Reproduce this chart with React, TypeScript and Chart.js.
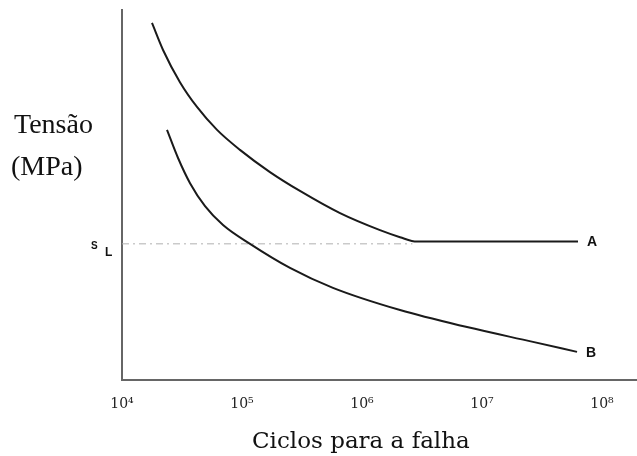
import React, { useEffect, useRef } from "react";
import { Chart, registerables } from "chart.js";

Chart.register(...registerables);

// log10(cycles to failure) and stress (arbitrary units, 0-100)
const curveALogN = [4.25, 4.342, 4.483, 4.625, 4.792, 4.983, 5.233, 5.483, 5.817, 6.15, 6.317, 6.458, 7.8];
const curveAStress = [96.5, 89.2, 80.5, 73.8, 67.6, 62.2, 56.2, 51.1, 45.1, 40.5, 38.6, 37.4, 37.4];
const curveBLogN = [4.375, 4.467, 4.567, 4.692, 4.842, 5.067, 5.4, 5.758, 6.317, 6.875, 7.425, 7.792];
const curveBStress = [67.6, 60.0, 53.2, 47.0, 41.9, 36.8, 30.3, 24.9, 18.9, 14.3, 10.3, 7.6];
const enduranceLimit = 36.8;
const enduranceLogN = [4, 6.42];
const tickDecades = [4, 5, 6, 7, 8];
const tickLabels = ["10⁴", "10⁵", "10⁶", "10⁷", "10⁸"];
const curveNames = ["A", "B"];
const yTitleLines = ["Tensão", "(MPa)"];
const xTitle = "Ciclos para a falha";

const textPlugin = {
  id: "textPlugin",
  afterDraw(chart: any) {
    const ctx = chart.ctx;
    const xs = chart.scales.x;
    const ys = chart.scales.y;
    ctx.save();
    ctx.fillStyle = "#111";
    // curve labels
    ctx.font = 'bold 14px "Liberation Sans"';
    ctx.textBaseline = "middle";
    ctx.textAlign = "left";
    const ends = [
      [curveALogN[curveALogN.length - 1], curveAStress[curveAStress.length - 1]],
      [curveBLogN[curveBLogN.length - 1], curveBStress[curveBStress.length - 1]],
    ];
    ends.forEach((e, i) => {
      ctx.fillText(curveNames[i], xs.getPixelForValue(e[0]) + 9, ys.getPixelForValue(e[1]) + 1);
    });
    // S_L
    const slY = ys.getPixelForValue(enduranceLimit);
    ctx.textBaseline = "alphabetic";
    ctx.font = 'bold 10px "Liberation Sans"';
    ctx.fillText("S", 91, slY + 5);
    ctx.font = 'bold 12px "Liberation Sans"';
    ctx.fillText("L", 105, slY + 12);
    // y title
    ctx.font = '28px "Liberation Serif"';
    ctx.textBaseline = "middle";
    ctx.fillText(yTitleLines[0], 14, 126);
    ctx.fillText(yTitleLines[1], 11, 168);
    // x title
    ctx.font = '23px "DejaVu Serif"';
    ctx.textBaseline = "alphabetic";
    ctx.fillText(xTitle, 252, 448);
    ctx.restore();
  },
};

export default function App() {
  const ref = useRef<HTMLCanvasElement | null>(null);
  useEffect(() => {
    if (!ref.current) return;
    const chart = new Chart(ref.current, {
      type: "line",
      data: {
        datasets: [
          {
            label: "A",
            data: curveALogN.map((x, i) => ({ x, y: curveAStress[i] })),
            borderColor: "#1a1a1a",
            borderWidth: 2,
            pointRadius: 0,
            cubicInterpolationMode: "monotone",
            fill: false,
          },
          {
            label: "B",
            data: curveBLogN.map((x, i) => ({ x, y: curveBStress[i] })),
            borderColor: "#1a1a1a",
            borderWidth: 2,
            pointRadius: 0,
            cubicInterpolationMode: "monotone",
            fill: false,
          },
          {
            label: "SL",
            data: enduranceLogN.map((x) => ({ x, y: enduranceLimit })),
            borderColor: "#b0b0b0",
            borderWidth: 1,
            borderDash: [7, 4, 2, 4],
            pointRadius: 0,
            fill: false,
          },
        ],
      },
      options: {
        animation: false,
        responsive: true,
        maintainAspectRatio: false,
        layout: { padding: { top: 10, left: 0, right: 0, bottom: 0 } },
        plugins: { legend: { display: false }, tooltip: { enabled: false } },
        scales: {
          x: {
            type: "linear",
            min: 4,
            max: 8.2917,
            afterFit: (s: any) => {
              s.height = 76;
            },
            afterBuildTicks: (s: any) => {
              s.ticks = tickDecades.map((v) => ({ value: v }));
            },
            grid: { display: false },
            border: { display: true, color: "#666", width: 2 },
            ticks: {
              padding: 8,
              maxRotation: 0,
              autoSkip: false,
              color: "#222",
              font: { family: "DejaVu Serif", size: 14 },
              callback: (v: any) => {
                const i = tickDecades.indexOf(Number(v));
                return i >= 0 ? tickLabels[i] : "";
              },
            },
          },
          y: {
            type: "linear",
            min: 0,
            max: 100,
            afterFit: (s: any) => {
              s.width = 122;
            },
            grid: { display: false },
            border: { display: true, color: "#666", width: 2 },
            ticks: { display: false },
          },
        },
      },
      plugins: [textPlugin],
    } as any);
    return () => chart.destroy();
  }, []);
  return (
    <div style={{ position: "absolute", left: 0, top: 0, width: 637, height: 456, background: "#fff" }}>
      <canvas ref={ref} />
    </div>
  );
}
